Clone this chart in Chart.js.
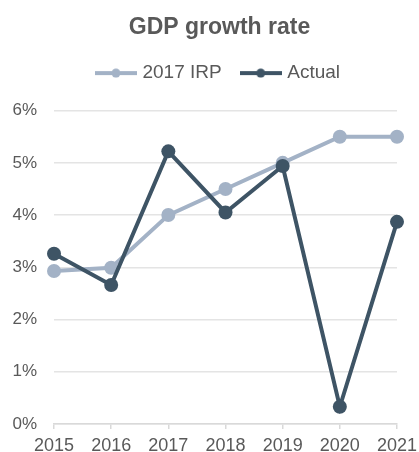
<!DOCTYPE html>
<html>
<head>
<meta charset="utf-8">
<script src="https://cdn.jsdelivr.net/npm/chart.js@4/dist/chart.umd.min.js"></script>
<style>
  html, body { margin: 0; padding: 0; background: #fff; }
  #wrap { width: 419px; height: 452px; }
</style>
</head>
<body>
<div id="wrap"><canvas id="gdpChart" width="419" height="452"></canvas></div>
<script>
// GDP growth rate: 2017 IRP forecast vs actual (percent)
const years = ['2015', '2016', '2017', '2018', '2019', '2020', '2021'];
const irpGrowth = [2.93, 2.99, 4.0, 4.5, 5.0, 5.5, 5.5];
const actualGrowth = [3.26, 2.66, 5.22, 4.05, 4.94, 0.33, 3.87];
const yTicks = [0, 1, 2, 3, 4, 5, 6];

const IRP_COLOR = '#a3b2c6';
const ACTUAL_COLOR = '#3e5465';
const TEXT_COLOR = '#595959';
const FONT = 'Liberation Sans, Arial, sans-serif';

// legend swatch: short line with a dot in the middle
function lineSwatch(color){
  const c = document.createElement('canvas');
  c.width = 42; c.height = 10;
  const g = c.getContext('2d');
  g.strokeStyle = color;
  g.lineWidth = 4;
  g.beginPath(); g.moveTo(0, 5); g.lineTo(42, 5); g.stroke();
  g.fillStyle = color;
  g.beginPath(); g.arc(21, 5, 4.5, 0, Math.PI * 2); g.fill();
  return c;
}

// more room under the legend, and title/legend centred over the plot side
const headerTweaks = {
  id: 'headerTweaks',
  beforeLayout(chart){
    const lg = chart.legend;
    if(!lg || lg._gapPatched) return;
    const fit = lg.fit;
    lg.fit = function(){ fit.call(this); this.height += 18; };
    lg._gapPatched = true;
  },
  afterLayout(chart){
    [chart.titleBlock, chart.legend].forEach(b => { if(b) b.left += 20; });
  }
};

const ctx = document.getElementById('gdpChart').getContext('2d');
const gdpChart = new Chart(ctx, {
  type: 'line',
  data: {
    labels: years,
    datasets: [{
      label: '2017 IRP',
      data: irpGrowth,
      borderColor: IRP_COLOR,
      backgroundColor: IRP_COLOR,
      borderWidth: 4,
      pointRadius: 7,
      pointBorderWidth: 0,
      tension: 0,
      order: 1
    }, {
      label: 'Actual',
      data: actualGrowth,
      borderColor: ACTUAL_COLOR,
      backgroundColor: ACTUAL_COLOR,
      borderWidth: 4,
      pointRadius: 7,
      pointBorderWidth: 0,
      tension: 0,
      order: 0
    }]
  },
  plugins: [headerTweaks],
  options: {
    responsive: false,
    animation: false,
    layout: { padding: 0 },
    plugins: {
      tooltip: { enabled: false },
      title: {
        display: true,
        text: 'GDP growth rate',
        color: TEXT_COLOR,
        font: { family: FONT, size: 23, weight: 'bold' },
        padding: { top: 14, bottom: 0 }
      },
      legend: {
        position: 'top',
        labels: {
          color: TEXT_COLOR,
          font: { family: FONT, size: 19 },
          usePointStyle: true,
          pointStyleWidth: 34,
          padding: 22,
          generateLabels: chart => chart.data.datasets.map((ds, i) => ({
            text: ds.label,
            datasetIndex: i,
            pointStyle: lineSwatch(ds.borderColor),
            fillStyle: ds.borderColor,
            strokeStyle: ds.borderColor,
            lineWidth: 0,
            fontColor: TEXT_COLOR
          }))
        }
      }
    },
    scales: {
      x: {
        offset: false,
        grid: {
          drawOnChartArea: false,
          drawTicks: true,
          tickLength: 5,
          color: '#d9d9d9',
          lineWidth: 1.5
        },
        border: { display: true, color: '#d9d9d9', width: 1.5 },
        ticks: {
          color: TEXT_COLOR,
          font: { family: FONT, size: 18 },
          padding: 6,
          maxRotation: 0,
          autoSkip: false
        },
        afterFit: s => { s.height = 28; s.paddingRight = 22; }
      },
      y: {
        min: 0,
        max: 6,
        afterBuildTicks: s => { s.ticks = yTicks.map(v => ({ value: v })); },
        grid: {
          drawTicks: false,
          color: '#e4e4e4',
          lineWidth: 1.5
        },
        border: { display: false },
        ticks: {
          color: TEXT_COLOR,
          font: { family: FONT, size: 17 },
          padding: 17,
          callback: v => v + '%'
        },
        afterFit: s => { s.width = 54; }
      }
    }
  }
});
</script>
</body>
</html>
